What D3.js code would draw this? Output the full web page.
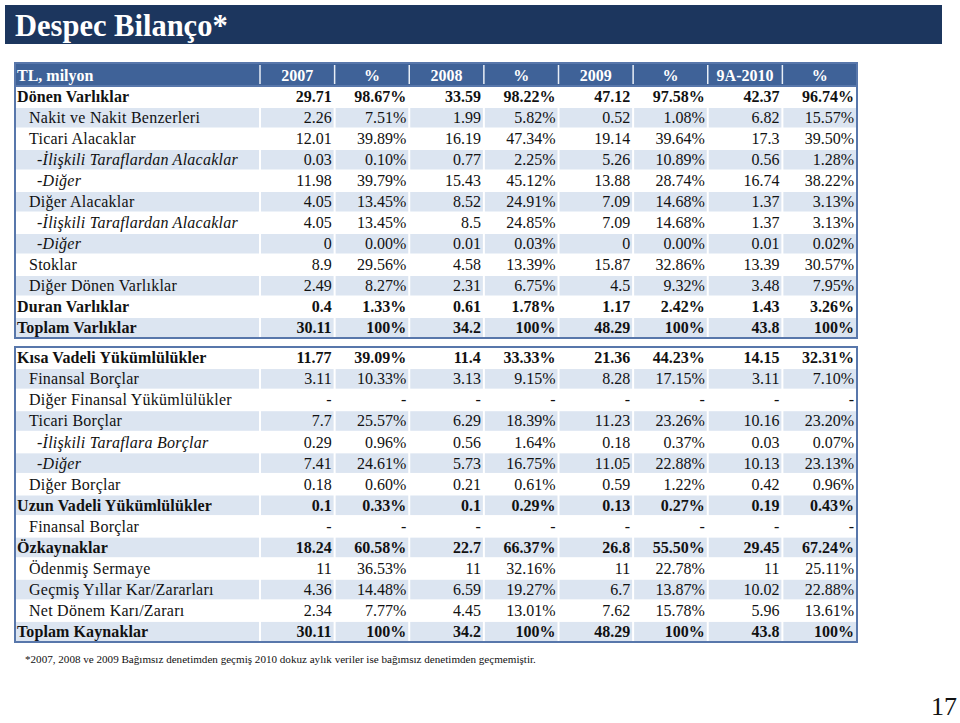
<!DOCTYPE html>
<html><head><meta charset="utf-8">
<script src="https://cdn.jsdelivr.net/npm/d3@7"></script>
<style>body{margin:0;background:#fff}svg{display:block}</style>
</head><body><svg id="c" width="960" height="723"></svg>
<script>
const title = "Despec Bilanço*";
const headers = ["TL, milyon","2007","%","2008","%","2009","%","9A-2010","%"];
const colKeys = ["v2007","p2007","v2008","p2008","v2009","p2009","v2010","p2010"];

// Table 1 (Varlıklar)
const assetLabels = ["Dönen Varlıklar","Nakit ve Nakit Benzerleri","Ticari Alacaklar","-İlişkili Taraflardan Alacaklar","-Diğer","Diğer Alacaklar","-İlişkili Taraflardan Alacaklar","-Diğer","Stoklar","Diğer Dönen Varlıklar","Duran Varlıklar","Toplam Varlıklar"];
const assetStyles = ["b","n","n","i","i","n","i","i","n","n","b","b"];
const asset2007 = ["29.71","2.26","12.01","0.03","11.98","4.05","4.05","0","8.9","2.49","0.4","30.11"];
const assetPct2007 = ["98.67%","7.51%","39.89%","0.10%","39.79%","13.45%","13.45%","0.00%","29.56%","8.27%","1.33%","100%"];
const asset2008 = ["33.59","1.99","16.19","0.77","15.43","8.52","8.5","0.01","4.58","2.31","0.61","34.2"];
const assetPct2008 = ["98.22%","5.82%","47.34%","2.25%","45.12%","24.91%","24.85%","0.03%","13.39%","6.75%","1.78%","100%"];
const asset2009 = ["47.12","0.52","19.14","5.26","13.88","7.09","7.09","0","15.87","4.5","1.17","48.29"];
const assetPct2009 = ["97.58%","1.08%","39.64%","10.89%","28.74%","14.68%","14.68%","0.00%","32.86%","9.32%","2.42%","100%"];
const asset2010 = ["42.37","6.82","17.3","0.56","16.74","1.37","1.37","0.01","13.39","3.48","1.43","43.8"];
const assetPct2010 = ["96.74%","15.57%","39.50%","1.28%","38.22%","3.13%","3.13%","0.02%","30.57%","7.95%","3.26%","100%"];

// Table 2 (Kaynaklar)
const liabLabels = ["Kısa Vadeli Yükümlülükler","Finansal Borçlar","Diğer Finansal Yükümlülükler","Ticari Borçlar","-İlişkili Taraflara Borçlar","-Diğer","Diğer Borçlar","Uzun Vadeli Yükümlülükler","Finansal Borçlar","Özkaynaklar","Ödenmiş Sermaye","Geçmiş Yıllar Kar/Zararları","Net Dönem Karı/Zararı","Toplam Kaynaklar"];
const liabStyles = ["b","n","n","n","i","i","n","b","n","b","n","n","n","b"];
const liab2007 = ["11.77","3.11","-","7.7","0.29","7.41","0.18","0.1","-","18.24","11","4.36","2.34","30.11"];
const liabPct2007 = ["39.09%","10.33%","-","25.57%","0.96%","24.61%","0.60%","0.33%","-","60.58%","36.53%","14.48%","7.77%","100%"];
const liab2008 = ["11.4","3.13","-","6.29","0.56","5.73","0.21","0.1","-","22.7","11","6.59","4.45","34.2"];
const liabPct2008 = ["33.33%","9.15%","-","18.39%","1.64%","16.75%","0.61%","0.29%","-","66.37%","32.16%","19.27%","13.01%","100%"];
const liab2009 = ["21.36","8.28","-","11.23","0.18","11.05","0.59","0.13","-","26.8","11","6.7","7.62","48.29"];
const liabPct2009 = ["44.23%","17.15%","-","23.26%","0.37%","22.88%","1.22%","0.27%","-","55.50%","22.78%","13.87%","15.78%","100%"];
const liab2010 = ["14.15","3.11","-","10.16","0.03","10.13","0.42","0.19","-","29.45","11","10.02","5.96","43.8"];
const liabPct2010 = ["32.31%","7.10%","-","23.20%","0.07%","23.13%","0.96%","0.43%","-","67.24%","25.11%","22.88%","13.61%","100%"];

const footnote = "*2007, 2008 ve 2009 Bağımsız denetimden geçmiş 2010 dokuz aylık veriler ise bağımsız denetimden geçmemiştir.";
const pageNo = "17";

const svg = d3.select("#c").attr("font-family", "'Liberation Serif', Tinos, 'DejaVu Serif', serif");
const navy = "#1c365e", headBlue = "#3f6298", shade = "#dce5f1", border = "#5877ab", ink = "#111";

// title bar
svg.append("rect").attr("x",5).attr("y",5).attr("width",937).attr("height",39).attr("fill",navy);
svg.append("text").attr("x",15).attr("y",35.5).attr("fill","#fff").attr("font-size",30.5).attr("font-weight","bold").text(title);

const left = 15, right = 857, labelRight = 260;
const x = d3.scaleBand().domain(colKeys).range([labelRight, right]);
const fs = 16;

function buildRows(labels, styles, cols) {
  return labels.map((l,i)=>{
    const r = {label:l, style:styles[i]};
    colKeys.forEach((k,j)=> r[k] = cols[j][i]);
    return r;
  });
}
const assetRows = buildRows(assetLabels, assetStyles, [asset2007,assetPct2007,asset2008,assetPct2008,asset2009,assetPct2009,asset2010,assetPct2010]);
const liabRows = buildRows(liabLabels, liabStyles, [liab2007,liabPct2007,liab2008,liabPct2008,liab2009,liabPct2009,liab2010,liabPct2010]);

function drawTable(rows, y0, y1) {
  const g = svg.append("g");
  const y = d3.scaleBand().domain(d3.range(rows.length)).range([y0, y1]);
  const cells = [{key:"label", x0:left, x1:labelRight}].concat(colKeys.map(k=>({key:k, x0:x(k), x1:x(k)+x.bandwidth()})));
  rows.forEach((r,i)=>{
    const shaded = i % 2 === 1;
    if (shaded) {
      g.selectAll(null).data(cells).enter().append("rect")
        .attr("x", c=>c.x0 + 1).attr("y", y(i)+1)
        .attr("width", c=>c.x1 - c.x0 - 2).attr("height", y.bandwidth()-1.5)
        .attr("fill", shade);
    }
    const base = y(i) + y.bandwidth()/2 + 5.7;
    const fw = r.style === "b" ? "bold" : "normal";
    const lx = r.style === "b" ? left + 2 : (r.style === "i" ? left + 22 : left + 14);
    g.append("text").attr("x", lx).attr("y", base).attr("font-size", fs)
      .attr("font-weight", fw).attr("font-style", r.style === "i" ? "italic" : "normal")
      .attr("letter-spacing", r.style === "b" ? 0.1 : 0.25)
      .attr("fill", ink).text(r.label);
    g.selectAll(null).data(colKeys).enter().append("text")
      .attr("x", k=>x(k)+x.bandwidth()-3).attr("y", base)
      .attr("text-anchor","end").attr("font-size",fs).attr("font-weight",fw)
      .attr("fill", ink).text(k=>r[k]);
  });
  g.append("rect").attr("x",left).attr("y",y0).attr("width",right-left).attr("height",y1-y0)
    .attr("fill","none").attr("stroke",border).attr("stroke-width",2);
  return g;
}

// header row
const hy0 = 63, hy1 = 86;
svg.append("rect").attr("x",left).attr("y",hy0).attr("width",right-left).attr("height",hy1-hy0).attr("fill",headBlue);
svg.selectAll(null).data(colKeys).enter().append("line")
  .attr("x1",k=>x(k)).attr("x2",k=>x(k)).attr("y1",hy0+2).attr("y2",hy1-2)
  .attr("stroke","#e8eef6").attr("stroke-width",1.5);
svg.append("text").attr("x",left+2).attr("y",hy0+17.5).attr("fill","#fff").attr("font-size",fs).attr("font-weight","bold").text(headers[0]);
svg.selectAll(null).data(colKeys).enter().append("text")
  .attr("x",k=>x(k)+x.bandwidth()/2).attr("y",hy0+17.5).attr("text-anchor","middle")
  .attr("fill","#fff").attr("font-size",fs).attr("font-weight","bold")
  .text((k,i)=>headers[i+1]);

drawTable(assetRows, hy1, 338);
svg.append("rect").attr("x",left).attr("y",hy0).attr("width",right-left).attr("height",338-hy0)
  .attr("fill","none").attr("stroke",border).attr("stroke-width",2);
drawTable(liabRows, 347, 642);

svg.append("text").attr("x",25).attr("y",663).attr("font-size",11.1).attr("fill",ink).text(footnote);
svg.append("text").attr("x",957).attr("y",715).attr("text-anchor","end").attr("font-size",26).attr("fill",ink).text(pageNo);
</script></body></html>
